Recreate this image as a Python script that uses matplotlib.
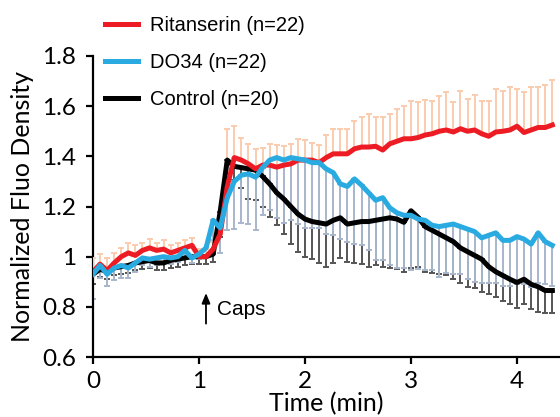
import numpy as np
import matplotlib
matplotlib.use("Agg")
import matplotlib.pyplot as plt

# sampling: one frame every 4 s, time in min
frame_min = 4 / 60.
n_frames = 66
time = np.arange(n_frames) * frame_min

ritanserin = [0.94, 0.97, 0.945, 0.975, 1.0, 1.015, 1.005, 1.025, 1.035, 1.025,
              1.03, 1.015, 1.025, 1.035, 1.045, 1.0, 1.0, 1.03, 1.09, 1.28,
              1.395, 1.385, 1.37, 1.35, 1.365, 1.365, 1.357, 1.365, 1.37, 1.385,
              1.385, 1.385, 1.375, 1.395, 1.41, 1.41, 1.41, 1.43, 1.437, 1.437,
              1.44, 1.425, 1.45, 1.46, 1.47, 1.47, 1.475, 1.485, 1.49, 1.5,
              1.505, 1.497, 1.51, 1.5, 1.505, 1.49, 1.48, 1.497, 1.5, 1.505,
              1.52, 1.495, 1.505, 1.515, 1.515, 1.525]
ritanserin_err = [0.055, 0.04, 0.05, 0.04, 0.035, 0.04, 0.04, 0.03, 0.035, 0.03,
                  0.035, 0.03, 0.03, 0.03, 0.03, 0.03, 0.03, 0.03, 0.05, 0.23,
                  0.125, 0.09, 0.08, 0.08, 0.07, 0.085, 0.09, 0.075, 0.08, 0.085,
                  0.08, 0.07, 0.07, 0.09, 0.1, 0.1, 0.1, 0.11, 0.12, 0.13,
                  0.115, 0.13, 0.12, 0.13, 0.13, 0.15, 0.14, 0.14, 0.13, 0.14,
                  0.15, 0.12, 0.15, 0.13, 0.14, 0.13, 0.14, 0.17, 0.16, 0.17,
                  0.15, 0.16, 0.17, 0.16, 0.17, 0.18]

do34 = [0.93, 0.965, 0.93, 0.955, 0.965, 0.955, 0.975, 0.995, 0.99, 0.995,
        1.0, 0.995, 1.0, 1.025, 0.995, 1.01, 1.035, 1.145, 1.115, 1.235,
        1.30, 1.325, 1.33, 1.317, 1.355, 1.385, 1.395, 1.385, 1.395, 1.39,
        1.385, 1.375, 1.375, 1.35, 1.335, 1.29, 1.28, 1.31, 1.285, 1.255,
        1.225, 1.235, 1.195, 1.175, 1.165, 1.165, 1.15, 1.145, 1.125, 1.12,
        1.125, 1.13, 1.12, 1.11, 1.1, 1.075, 1.085, 1.095, 1.065, 1.065,
        1.08, 1.07, 1.05, 1.095, 1.06, 1.045]
do34_err = [0.1, 0.05, 0.045, 0.05, 0.05, 0.04, 0.035, 0.03, 0.03, 0.03,
            0.025, 0.025, 0.02, 0.025, 0.02, 0.02, 0.03, 0.08, 0.1, 0.13,
            0.19, 0.19, 0.2, 0.21, 0.19, 0.2, 0.24, 0.25, 0.25, 0.26,
            0.27, 0.26, 0.26, 0.26, 0.25, 0.22, 0.22, 0.26, 0.24, 0.23,
            0.24, 0.25, 0.23, 0.22, 0.21, 0.22, 0.2, 0.2, 0.18, 0.2,
            0.19, 0.2, 0.19, 0.2, 0.2, 0.18, 0.19, 0.2, 0.18, 0.18,
            0.19, 0.18, 0.17, 0.2, 0.17, 0.16]

control = [0.93, 0.95, 0.94, 0.955, 0.96, 0.965, 0.975, 0.98, 0.985, 0.975,
           0.975, 0.985, 0.99, 0.995, 1.0, 1.0, 1.0, 1.01, 1.18, 1.385,
           1.36, 1.355, 1.35, 1.345, 1.32, 1.29, 1.255, 1.23, 1.2, 1.17,
           1.15, 1.14, 1.135, 1.13, 1.145, 1.155, 1.13, 1.135, 1.14, 1.14,
           1.145, 1.15, 1.155, 1.15, 1.137, 1.183, 1.157, 1.12, 1.105, 1.09,
           1.075, 1.06, 1.035, 1.02, 1.005, 0.99, 0.96, 0.94, 0.925, 0.91,
           0.897, 0.91, 0.89, 0.88, 0.865, 0.865]
control_err = [0.04, 0.03, 0.03, 0.03, 0.03, 0.03, 0.03, 0.03, 0.03, 0.03,
               0.03, 0.03, 0.03, 0.03, 0.03, 0.03, 0.03, 0.03, 0.1, 0.06,
               0.055, 0.08, 0.12, 0.12, 0.12, 0.13, 0.13, 0.14, 0.15, 0.15,
               0.15, 0.15, 0.16, 0.17, 0.17, 0.16, 0.15, 0.16, 0.17, 0.18,
               0.18, 0.19, 0.2, 0.2, 0.2, 0.23, 0.2, 0.18, 0.17, 0.16,
               0.15, 0.15, 0.14, 0.14, 0.13, 0.13, 0.11, 0.1, 0.1, 0.1,
               0.1, 0.1, 0.1, 0.1, 0.09, 0.09]

labels = ["Ritanserin (n=22)", "DO34 (n=22)", "Control (n=20)"]
yticks = [0.6, 0.8, 1.0, 1.2, 1.4, 1.6, 1.8]
ytick_labels = ["0.6", "0.8", "1", "1.2", "1.4", "1.6", "1.8"]
xticks = [0, 1, 2, 3, 4]

zeros = np.zeros(n_frames)

fig = plt.figure(figsize=(5.6, 4.17), dpi=100)
ax = fig.add_axes([93/560., 1-357/417., 467/560., 301/417.])

# error bars first (one-sided), lines on top
ax.errorbar(time, control, yerr=[control_err, zeros], fmt="none", ecolor="#555555",
            elinewidth=1.4, capsize=2.2, capthick=1.4, zorder=1)
ax.errorbar(time, do34, yerr=[do34_err, zeros], fmt="none", ecolor="#A8B6CB",
            elinewidth=1.4, capsize=2.2, capthick=1.4, zorder=2)
ax.errorbar(time, ritanserin, yerr=[zeros, ritanserin_err], fmt="none", ecolor="#FACBAE",
            elinewidth=1.4, capsize=2.2, capthick=1.4, zorder=3)

l_ctl, = ax.plot(time, control, c="#000000", lw=3.6, zorder=4)
l_rit, = ax.plot(time, ritanserin, c="#ED1C24", lw=3.6, zorder=5)
l_do, = ax.plot(time, do34, c="#29ABE2", lw=3.6, zorder=6)

ax.set_xlim(0, 4.406)
ax.set_ylim(0.6, 1.8)
ax.set_xticks(xticks)
ax.set_yticks(yticks)
ax.set_yticklabels(ytick_labels)

for s in ["top", "right"]:
    ax.spines[s].set_visible(False)
for s in ["left", "bottom"]:
    ax.spines[s].set_linewidth(1.6)
ax.tick_params(direction="out", length=5, width=1.6, labelsize=17.5)
ax.tick_params(axis="y", pad=7)
ax.tick_params(axis="x", pad=5)
for t in ax.get_xticklabels() + ax.get_yticklabels():
    t.set_fontfamily("Lato")

ax.set_xlabel("Time (min)", fontsize=18, family="Lato", labelpad=0)
ax.set_ylabel("Normalized Fluo Density", fontsize=18, family="Lato", labelpad=6)

# stimulus marker
ax.annotate("", xy=(1.066, 0.866), xytext=(1.066, 0.722),
            arrowprops=dict(arrowstyle="-|>,head_width=0.25,head_length=0.6", color="k", lw=1.3))
ax.text(1.17, 0.79, "Caps", fontsize=15, family="Liberation Sans", va="center", ha="left")

fig.legend([l_rit, l_do, l_ctl], labels, loc="upper left", bbox_to_anchor=(91/560., 1-2/417.),
           frameon=False, prop={"family": "Liberation Sans", "size": 14.5},
           handlelength=1.65, handletextpad=0.6, labelspacing=0.9, borderpad=0.2)

fig.savefig("out.png", dpi=100)
